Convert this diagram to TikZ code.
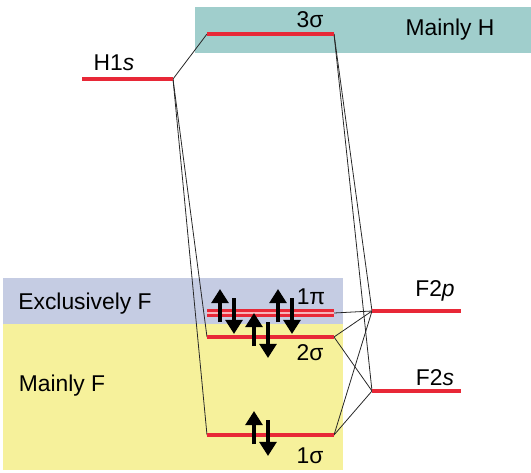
\documentclass[tikz,border=0pt]{standalone}
\usepackage{fontspec}
\setmainfont{Liberation Sans}
\usetikzlibrary{arrows.meta}

\definecolor{mainlyH}{RGB}{160,206,204}
\definecolor{exclF}{RGB}{197,204,227}
\definecolor{mainlyF}{RGB}{246,241,155}
\definecolor{levelred}{RGB}{232,40,55}

\tikzset{
  level/.style={levelred, line width=1.9pt},
  mix/.style={black!85, line width=0.45pt},
  spin/.style={line width=2.7pt, -{Triangle[width=9.5pt,length=8pt]}},
  lbl/.style={font=\fontsize{13}{15}\selectfont, inner sep=0pt},
}

\begin{document}
\begin{tikzpicture}[x=0.02cm, y=-0.02cm]
        \useasboundingbox (0,0) rectangle (531,473);

        % Regions
        \fill[mainlyH] (195,7) rectangle (531,53);
        \fill[exclF] (3,278) rectangle (343,324);
        \fill[mainlyF] (3,324) rectangle (343,470);
        \node[lbl] (regH) at (450,30) {Mainly H};
        \node[lbl] (regExcl) at (85,304) {Exclusively F};
        \node[lbl] (regF) at (62,386) {Mainly F};

        % Level ends
        \coordinate (hL) at (82,79);   \coordinate (hR) at (173,79);
        \coordinate (s3L) at (207,34); \coordinate (s3R) at (334,34);
        \coordinate (p1L) at (207,313); \coordinate (p1R) at (334,313);
        \coordinate (s2L) at (207,337); \coordinate (s2R) at (334,337);
        \coordinate (s1L) at (207,435); \coordinate (s1R) at (334,435);
        \coordinate (fpL) at (372,311); \coordinate (fpR) at (461,311);
        \coordinate (fsL) at (372,391); \coordinate (fsR) at (461,391);

        % Correlation lines
        \draw[mix] (hR) -- (s3L);
        \draw[mix] (hR) -- (s2L);
        \draw[mix] (hR) -- (s1L);
        \draw[mix] (s3R) -- (fpL);
        \draw[mix] (s3R) -- (fsL);
        \draw[mix] (p1R) -- (fpL);
        \draw[mix] (s2R) -- (fpL);
        \draw[mix] (s2R) -- (fsL);
        \draw[mix] (s1R) -- (fpL);
        \draw[mix] (s1R) -- (fsL);

        % Levels
        \draw[level] (hL) -- (hR);
        \draw[level] (s3L) -- (s3R);
        \fill[levelred!35] (207,311) rectangle (334,315);
        \draw[level, line width=1.3pt] (207,310.5) -- (334,310.5);
        \draw[level, line width=1.3pt] (207,315.5) -- (334,315.5);
        \draw[level] (s2L) -- (s2R);
        \draw[level] (s1L) -- (s1R);
        \draw[level] (fpL) -- (fpR);
        \draw[level] (fsL) -- (fsR);

        % Electrons
        \foreach \ex/\ey in {227/313, 285/313, 261/337, 261/435} {
            \draw[spin] (\ex-7,\ey+9) -- (\ex-7,\ey-24);
            \draw[spin] (\ex+7,\ey-15) -- (\ex+7,\ey+21);
        }

        % Labels
        \node[lbl] (lblH) at (114,63) {H1\textit{s}};
        \node[lbl] (lbl3s) at (310,20) {3σ};
        \node[lbl] (lbl1p) at (311,297) {1π};
        \node[lbl] (lbl2s) at (310,353) {2σ};
        \node[lbl] (lbl1s) at (310,456) {1σ};
        \node[lbl] (lblFp) at (435,291) {F2\textit{p}};
        \node[lbl] (lblFs) at (435,378) {F2\textit{s}};

\end{tikzpicture}
\end{document}
